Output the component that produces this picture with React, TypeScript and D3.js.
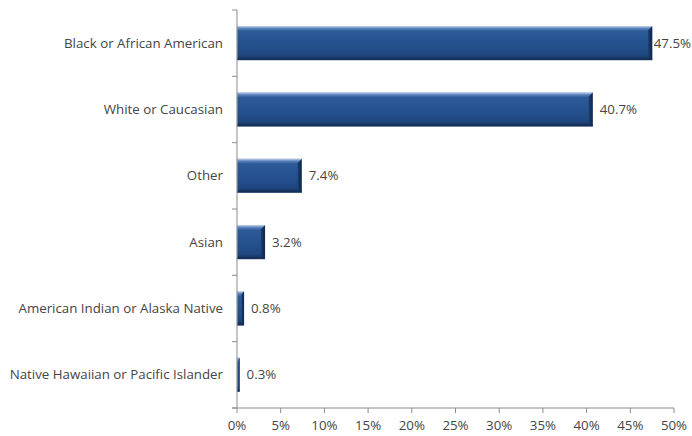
import React from "react";
import * as d3 from "d3";

const categories = [
  "Black or African American",
  "White or Caucasian",
  "Other",
  "Asian",
  "American Indian or Alaska Native",
  "Native Hawaiian or Pacific Islander",
];
const values = [47.5, 40.7, 7.4, 3.2, 0.8, 0.3];
const xTicks = [0, 5, 10, 15, 20, 25, 30, 35, 40, 45, 50];

const W = 692;
const H = 436;
const M = { left: 237, right: 18, top: 10, bottom: 28 };

export default function App() {
  const x = d3.scaleLinear().domain([0, 50]).range([M.left, W - M.right]);
  const y = d3
    .scaleBand<string>()
    .domain(categories)
    .range([M.top, H - M.bottom])
    .paddingInner(0.49)
    .paddingOuter(0.245);
  const y0 = M.top;
  const y1 = H - M.bottom;
  const bw = y.bandwidth();
  const font = "'Open Sans', 'Liberation Sans', sans-serif";
  const fs = 13.3;
  const axisColor = "#8c8c8c";
  const textColor = "#454545";

  const boundaries = d3.range(categories.length + 1).map((i) => y0 + i * (y1 - y0) / categories.length);

  return (
    <svg width={W} height={H} style={{ position: "absolute", left: 0, top: 0 }}>
      <defs>
        <linearGradient id="barG" x1="0" y1="0" x2="0" y2="1">
          <stop offset="0%" stopColor="#b9cbe6" />
          <stop offset="6%" stopColor="#5f87c0" />
          <stop offset="14%" stopColor="#2d5a98" />
          <stop offset="55%" stopColor="#24518e" />
          <stop offset="85%" stopColor="#1f4780" />
          <stop offset="100%" stopColor="#132d56" />
        </linearGradient>
        <linearGradient id="endG" x1="0" y1="0" x2="1" y2="0">
          <stop offset="0%" stopColor="#1c3f72" />
          <stop offset="100%" stopColor="#0f2547" />
        </linearGradient>
      </defs>
      {categories.map((c, i) => {
        const v = values[i];
        const bx = x(0);
        const bxe = x(v);
        const by = y(c) as number;
        const w = bxe - bx;
        const bev = Math.min(4, w * 0.35);
        return (
          <g key={c}>
            <rect x={bx} y={by} width={w} height={bw} fill="url(#barG)" stroke="#a8bddc" strokeWidth={0.6} />
            <polygon
              points={`${bxe - bev},${by + bev} ${bxe},${by} ${bxe},${by + bw} ${bxe - bev},${by + bw - bev}`}
              fill="url(#endG)"
            />
            <rect x={bx} y={by + bw - 2} width={w} height={2} fill="#132d56" opacity={0.8} />
          </g>
        );
      })}
      <line x1={M.left} x2={M.left} y1={y0} y2={y1} stroke={axisColor} strokeWidth={1} />
      {boundaries.map((b, i) => (
        <line key={i} x1={M.left - 5} x2={M.left} y1={b} y2={b} stroke={axisColor} strokeWidth={1} />
      ))}
      <line x1={M.left - 5} x2={x(50)} y1={y1} y2={y1} stroke={axisColor} strokeWidth={1} />
      {xTicks.map((t) => (
        <g key={t}>
          <line x1={x(t)} x2={x(t)} y1={y1} y2={y1 + 5} stroke={axisColor} strokeWidth={1} />
          <text x={x(t)} y={y1 + 22} textAnchor="middle" fontFamily={font} fontSize={fs} fill={textColor}>
            {t}%
          </text>
        </g>
      ))}
      {categories.map((c) => (
        <text
          key={c}
          x={M.left - 14}
          y={(y(c) as number) + bw / 2}
          dy="0.35em"
          textAnchor="end"
          fontFamily={font}
          fontSize={fs}
          fill={textColor}
        >
          {c}
        </text>
      ))}
      {categories.map((c, i) => {
        const v = values[i];
        const lx = x(v) + 7;
        const over = lx + 40 > W;
        return (
          <text
            key={c}
            x={over ? W - 1 : lx}
            y={(y(c) as number) + bw / 2}
            dy="0.35em"
            textAnchor={over ? "end" : "start"}
            fontFamily={font}
            fontSize={fs}
            fill={textColor}
          >
            {v.toFixed(1)}%
          </text>
        );
      })}
    </svg>
  );
}
